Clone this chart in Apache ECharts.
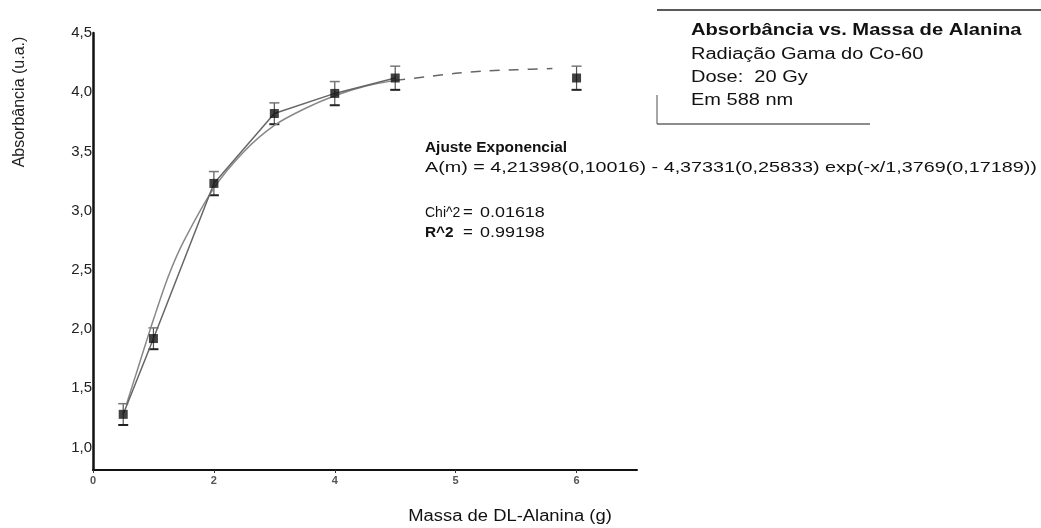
<!DOCTYPE html>
<html style="height: 100%">
<head>
    <meta charset="utf-8">
    <title>Absorbância vs. Massa de Alanina</title>
</head>
<body style="height: 100%; margin: 0; background: #fff">
<div id="container" style="width: 1041px; height: 528px"></div>
<script type="text/javascript" src="https://cdn.jsdelivr.net/npm/echarts@6/dist/echarts.min.js"></script>
<script type="text/javascript">
    // pontos medidos (g, u.a.)
    var massa = [0.5, 1, 2, 3, 4, 5, 8];
    var absorb = [1.28, 1.92, 3.23, 3.82, 3.99, 4.12, 4.12];
    var erro = [0.09, 0.09, 0.10, 0.09, 0.10, 0.10, 0.10];

    // curva do ajuste
    var ajusteX = [0.55, 0.75, 1.0, 1.25, 1.5, 2.0, 2.5, 3.0, 3.5, 4.0, 4.5, 5.0];
    var ajusteY = [1.36, 1.68, 2.08, 2.45, 2.74, 3.19, 3.50, 3.72, 3.86, 3.97, 4.05, 4.10];
    var caudaX = [5.0, 5.5, 6.0, 6.5, 7.0, 7.6];
    var caudaY = [4.10, 4.13, 4.16, 4.18, 4.19, 4.20];

    var xTicks = [0, 2, 4, 6, 8];
    var xTickLabels = ['0', '2', '4', '5', '6'];
    var yTicks = [1.0, 1.5, 2.0, 2.5, 3.0, 3.5, 4.0, 4.5];

    var dom = document.getElementById("container");
    var myChart = echarts.init(dom);
    var font = 'Liberation Sans, Arial, sans-serif';

    function pares(xs, ys) {
        var out = [];
        for (var i = 0; i < xs.length; i++) out.push([xs[i], ys[i]]);
        return out;
    }

    var pontos = pares(massa, absorb);
    var barras = [];
    for (var i = 0; i < massa.length; i++) {
        barras.push([massa[i], absorb[i] - erro[i], absorb[i] + erro[i]]);
    }

    function texto(x, y, t, size, bold, sx) {
        return {
            type: 'text', x: x, y: y, scaleX: sx || 1,
            style: {
                text: t, x: 0, y: 0, fill: '#111',
                font: (bold ? 'bold ' : '') + size + 'px ' + font,
                textVerticalAlign: 'middle'
            }
        };
    }

    function linha(x1, y1, x2, y2, cor) {
        return {
            type: 'line',
            shape: {x1: x1, y1: y1, x2: x2, y2: y2},
            style: {stroke: cor || '#222', lineWidth: 1.5}
        };
    }

    var option = {
        animation: false,
        grid: {left: 93, right: 404, top: 33, bottom: 58},
        xAxis: {
            type: 'value', min: 0, max: 9,
            axisLine: {lineStyle: {color: '#111', width: 2}},
            axisTick: {show: true, length: 3, customValues: xTicks, lineStyle: {color: '#333'}},
            axisLabel: {
                customValues: xTicks,
                fontSize: 11, color: '#555', fontWeight: 'bold', margin: 5,
                fontFamily: font,
                formatter: function (v) {
                    var k = xTicks.indexOf(v);
                    return k >= 0 ? xTickLabels[k] : '';
                }
            },
            splitLine: {show: false}
        },
        yAxis: {
            type: 'value', min: 0.81, max: 4.5,
            axisLine: {show: true, lineStyle: {color: '#111', width: 2.5}},
            axisTick: {show: false},
            axisLabel: {
                customValues: yTicks,
                fontSize: 15, color: '#222', margin: 1, fontFamily: font,
                formatter: function (v) { return v.toFixed(1).replace('.', ','); }
            },
            splitLine: {show: false}
        },
        series: [{
            name: 'ajuste',
            type: 'line',
            data: pares(ajusteX, ajusteY),
            smooth: 0.3,
            showSymbol: false,
            lineStyle: {color: '#888', width: 1.5}
        }, {
            name: 'ajuste-cauda',
            type: 'line',
            data: pares(caudaX, caudaY),
            smooth: 0.3,
            showSymbol: false,
            lineStyle: {color: '#666', width: 1.5, type: [10, 9]}
        }, {
            name: 'dados',
            type: 'line',
            data: pontos.slice(0, 6),
            showSymbol: false,
            lineStyle: {color: '#666', width: 1.5}
        }, {
            name: 'erro',
            type: 'custom',
            data: barras,
            renderItem: function (params, api) {
                var x = api.value(0);
                var lo = api.coord([x, api.value(1)]);
                var hi = api.coord([x, api.value(2)]);
                var w = 5;
                return {
                    type: 'group',
                    children: [
                        {type: 'line', shape: {x1: lo[0], y1: lo[1], x2: hi[0], y2: hi[1]}, style: {stroke: '#555', lineWidth: 1.2}},
                        {type: 'line', shape: {x1: hi[0] - w, y1: hi[1], x2: hi[0] + w, y2: hi[1]}, style: {stroke: '#777', lineWidth: 1.5}},
                        {type: 'line', shape: {x1: lo[0] - w, y1: lo[1], x2: lo[0] + w, y2: lo[1]}, style: {stroke: '#222', lineWidth: 2}}
                    ]
                };
            }
        }, {
            name: 'pontos',
            type: 'scatter',
            data: pontos,
            symbol: 'rect',
            symbolSize: 9,
            itemStyle: {color: '#111'},
            z: 5
        }],
        graphic: [
            {
                type: 'text', x: 20, y: 102, rotation: Math.PI / 2,
                style: {
                    text: 'Absorbância (u.a.)', fill: '#222',
                    font: '16px ' + font, textAlign: 'center', textVerticalAlign: 'middle'
                }
            },
            {
                type: 'text', x: 510, y: 517, scaleX: 1.15,
                style: {
                    text: 'Massa de DL-Alanina (g)', x: 0, y: 0, fill: '#111',
                    font: '16px ' + font, textAlign: 'center', textVerticalAlign: 'middle'
                }
            },
            linha(657, 10, 1041, 10),
            linha(657, 95, 657, 124, '#888'),
            linha(657, 124, 870, 124, '#666'),
            texto(691, 31, 'Absorbância vs. Massa de Alanina', 16, true, 1.26),
            texto(691, 55, 'Radiação Gama do Co-60', 16, false, 1.25),
            texto(691, 78, 'Dose:  20 Gy', 16, false, 1.25),
            texto(691, 101, 'Em 588 nm', 16, false, 1.25),
            texto(425, 148, 'Ajuste Exponencial', 14, true, 1.1),
            texto(425, 168, 'A(m) = 4,21398(0,10016) - 4,37331(0,25833) exp(-x/1,3769(0,17189))', 14, false, 1.41),
            texto(425, 213, 'Chi^2', 14, false, 1.0),
            texto(463, 213, '=', 14, false, 1.2),
            texto(480, 213, '0.01618', 14, false, 1.28),
            texto(425, 233, 'R^2', 14, true, 1.1),
            texto(463, 233, '=', 14, false, 1.2),
            texto(480, 233, '0.99198', 14, false, 1.28)
        ]
    };

    myChart.setOption(option, true);
</script>
</body>
</html>
